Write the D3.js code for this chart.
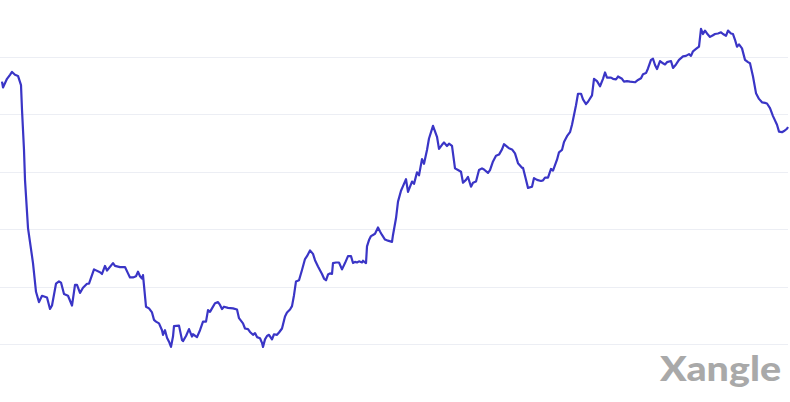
<!DOCTYPE html>
<html lang="en">
<head>
<meta charset="utf-8">
<script src="https://d3js.org/d3.v7.min.js"></script>
<style type="text/css">
body {
	margin: 0;
	background-color: #fff;
	font: 11px sans-serif;
}
.grid line {
	stroke: #eceef4;
	shape-rendering: crispEdges;
}
.grid path {
	display: none;
}
.watermark {
	font-family: Lato, "Open Sans", sans-serif;
	font-weight: 900;
	fill: #a9a9a9;
}
</style>
</head>
<body>
<div class="chart"></div>
<script type="text/javascript">
// day offsets from the first point
var days = [0,1,5,8,10,13,16,19,20,22,23,26,31,34,37,40,45,48,50,54,57,59,62,66,70,73,75,78,81,85,
	87,92,98,100,103,105,111,113,118,123,126,128,131,134,136,138,140,141,144,147,150,152,154,157,160,161,163,165,167,169,
	171,172,177,180,181,184,187,190,191,195,198,201,204,206,208,210,213,216,218,220,222,226,231,235,237,241,243,246,248,251,
	253,255,258,260,261,263,265,267,270,272,275,277,280,283,285,288,290,292,294,297,300,303,305,308,311,313,316,320,322,324,
	326,328,330,331,334,337,340,343,346,349,351,353,355,357,360,361,364,365,367,369,371,373,376,378,380,383,386,390,391,394,
	396,399,401,404,406,410,412,415,417,420,422,425,427,431,435,437,440,442,445,447,450,453,456,459,461,464,466,469,471,474,
	477,480,482,486,488,491,494,497,500,502,505,507,510,513,516,520,521,524,526,530,532,535,539,541,543,546,549,551,555,557,
	560,562,565,568,570,572,574,576,579,581,584,586,590,592,595,598,601,603,605,609,611,614,616,620,622,625,628,633,636,639,
	641,644,646,649,651,653,655,658,661,663,665,669,671,674,677,681,684,687,689,691,694,697,699,701,703,705,708,711,713,716,
	719,721,724,726,729,731,733,735,737,740,743,746,748,751,754,757,760,763,765,768,771,775,777,780,782,785,786];

// price, in grid units
var prices = [5.57,5.47,5.62,5.69,5.74,5.69,5.67,5.51,5.08,4.38,3.86,3.02,2.41,1.91,1.73,1.84,1.81,1.61,1.67,2.05,2.09,2.07,1.87,1.84,1.67,2.03,2.03,1.89,1.98,2.05,
	2.05,2.30,2.25,2.22,2.36,2.28,2.41,2.36,2.34,2.34,2.23,2.16,2.16,2.18,2.26,2.18,2.14,2.20,1.65,1.62,1.55,1.42,1.39,1.36,1.24,1.16,1.24,1.11,1.04,0.95,
	1.13,1.31,1.32,1.07,1.05,1.14,1.26,1.13,1.17,1.12,1.24,1.39,1.39,1.59,1.56,1.62,1.71,1.73,1.68,1.61,1.65,1.63,1.62,1.60,1.45,1.36,1.27,1.26,1.21,1.16,
	1.19,1.12,1.10,1.02,0.95,1.08,1.14,1.16,1.08,1.17,1.16,1.20,1.27,1.48,1.55,1.60,1.66,1.85,2.09,2.11,2.29,2.48,2.53,2.63,2.57,2.46,2.35,2.22,2.14,2.11,
	2.21,2.23,2.22,2.41,2.42,2.42,2.30,2.41,2.53,2.53,2.41,2.43,2.42,2.44,2.42,2.45,2.41,2.70,2.81,2.88,2.90,2.92,3.03,2.96,2.90,2.82,2.80,2.78,2.90,3.19,
	3.48,3.67,3.75,3.87,3.65,3.83,3.79,3.99,3.94,4.22,4.14,4.38,4.58,4.80,4.61,4.40,4.47,4.51,4.45,4.49,4.45,4.06,4.03,4.00,3.81,3.86,3.91,3.74,3.81,3.83,
	4.03,4.06,4.04,3.98,4.03,4.18,4.28,4.30,4.39,4.48,4.44,4.41,4.39,4.32,4.15,4.07,4.07,3.86,3.72,3.74,3.89,3.86,3.84,3.85,3.90,3.90,4.05,4.02,4.21,4.34,
	4.38,4.52,4.62,4.69,4.82,4.99,5.16,5.36,5.36,5.26,5.18,5.22,5.33,5.62,5.58,5.49,5.62,5.73,5.64,5.64,5.62,5.61,5.66,5.62,5.57,5.58,5.57,5.56,5.60,5.63,
	5.70,5.72,5.80,5.95,5.97,5.86,5.79,5.93,5.89,5.87,5.91,5.93,5.81,5.87,5.95,6.01,6.02,6.05,6.02,6.10,6.14,6.18,6.49,6.40,6.46,6.41,6.35,6.38,6.40,6.41,
	6.43,6.40,6.37,6.46,6.41,6.40,6.30,6.18,6.22,6.15,5.95,5.91,5.89,5.66,5.37,5.27,5.21,5.20,5.19,5.11,4.97,4.82,4.70,4.69,4.71,4.75,4.78];

var gridTicks = [1, 2, 3, 4, 5, 6];
var brand = "Xangle";

var width = 790;
var height = 402;
var lineColor = "#3a35c6";

var data = days.map(function(d, i) { return { day: d, price: prices[i] }; });

var x = d3.scaleLinear()
	.domain([0, 786])
	.range([2, 788]);

var y = d3.scaleLinear()
	.domain([0, 7])
	.range([401.4, -0.4]);

var svg = d3.select(".chart")
	.append("svg")
	.attr("width", width)
	.attr("height", height);

svg.append("rect")
	.attr("width", width)
	.attr("height", height)
	.style("fill", "#fff");

// horizontal grid only, no labels
svg.append("g")
	.attr("class", "grid")
	.call(d3.axisLeft(y)
		.tickValues(gridTicks)
		.tickSize(-788)
		.tickFormat(""));

var line = d3.line()
	.x(function(d) { return x(d.day); })
	.y(function(d) { return y(d.price); });

svg.append("path")
	.datum(data)
	.attr("d", line)
	.style("fill", "none")
	.style("stroke", lineColor)
	.style("stroke-width", 2.2)
	.style("stroke-linejoin", "round");

// watermark, stretched to the logo width
svg.append("text")
	.attr("class", "watermark")
	.attr("x", 660)
	.attr("y", 381)
	.attr("textLength", 121)
	.attr("lengthAdjust", "spacingAndGlyphs")
	.style("font-size", "34px")
	.text(brand);
</script>
</body>
</html>
